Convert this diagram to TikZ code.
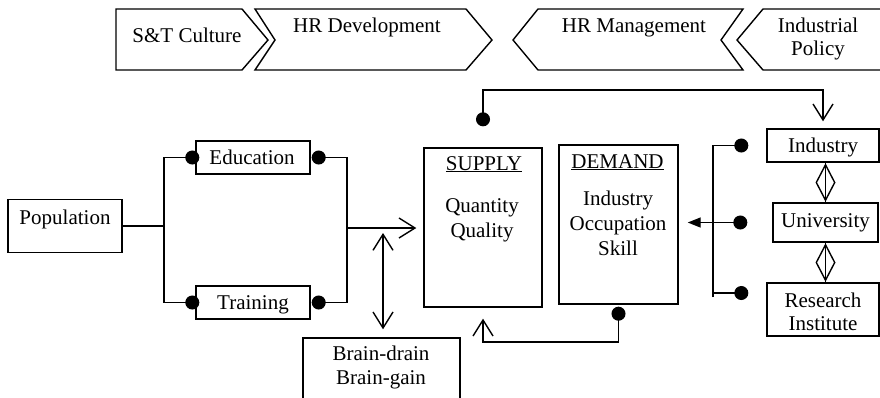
\documentclass[tikz,border=0pt]{standalone}
\usepackage{fontspec}
\setmainfont{Liberation Serif}
\usetikzlibrary{arrows.meta,shapes.geometric}
\tikzset{box/.style={draw,line width=1.4pt,inner sep=0pt},word/.style={anchor=base,align=center,inner sep=0pt},link/.style={line width=1.4pt},barb/.style={link,-{Straight Barb[length=16pt,width=20pt]}},barbs/.style={link,{Straight Barb[length=16pt,width=20pt]}-{Straight Barb[length=16pt,width=20pt]}},dotend/.style={link,-{Circle[length=14pt]}},dotstart/.style={link,{Circle[length=14pt]}-},joint/.style={draw,diamond,line width=1.4pt,inner sep=0pt,minimum width=19pt,minimum height=36pt}}

\begin{document}
\begin{tikzpicture}[x=1pt,y=-1pt,font=\fontsize{21pt}{25pt}\selectfont,line join=miter]
\useasboundingbox (0,0) rectangle (880,397);
\clip (0,0) rectangle (880,397);
\draw[link] (116,9) -- (242,9) -- (268,40) -- (242,70) -- (116,70) -- cycle;
\draw[link] (255,9) -- (466,9) -- (492,40) -- (466,70) -- (255,70) -- (275,40) -- cycle;
\draw[link] (538,9) -- (743,9) -- (721,40) -- (743,70) -- (538,70) -- (513,40) -- cycle;
\draw[link] (892,9) -- (763,9) -- (737,40) -- (763,70) -- (892,70);
\node[word] (culture) at (187,42) {S\&T Culture};
\node[word] (hrdev) at (367,32) {HR Development};
\node[word] (hrman) at (634,32) {HR Management};
\node[word] (policy) at (818,55) {Industrial\\[-2pt]Policy};
\node[box,minimum width=114pt,minimum height=53pt] (pop) at (65,226) {};
\node[box,minimum width=114pt,minimum height=33pt] (edu) at (253,157.5) {};
\node[box,minimum width=114pt,minimum height=33pt] (train) at (253,302.5) {};
\node[box,minimum width=118pt,minimum height=159pt] (supply) at (483,227.5) {};
\node[box,minimum width=119pt,minimum height=159pt] (demand) at (618.5,224.5) {};
\node[box,minimum width=157pt,minimum height=80pt] (brain) at (381.5,378) {};
\node[box,minimum width=112pt,minimum height=33pt] (industry) at (823,145.5) {};
\node[box,minimum width=105pt,minimum height=39pt] (univ) at (825.5,222.5) {};
\node[box,minimum width=112pt,minimum height=53pt] (research) at (823,309.5) {};
\node[word] (pop-t) at (65,224) {Population};
\node[word] (edu-t) at (252,164) {Education};
\node[word] (train-t) at (253,309) {Training};
\node[word] (supply-t) at (484,170) {\underline{SUPPLY}};
\node[word] (supply-b) at (482,237) {Quantity\\Quality};
\node[word] (demand-t) at (617.5,168) {\underline{DEMAND}};
\node[word] (demand-b) at (618,255) {Industry\\Occupation\\Skill};
\node[word] (brain-t) at (381,384) {Brain-drain\\[-1pt]Brain-gain};
\node[word] (industry-t) at (823,152) {Industry};
\node[word] (univ-t) at (825.5,227) {University};
\node[word] (research-t) at (823,330) {Research\\[-2pt]Institute};
\coordinate (split) at (164,226);
\coordinate (merge) at (347,228);
\coordinate (swap) at (383,233);
\coordinate (toprail) at (823,90);
\coordinate (lowrail) at (618.5,342);
\coordinate (bus) at (713,297);
\coordinate (idot) at ([xshift=-18pt]industry.west);
\coordinate (udot) at ([xshift=-25pt]univ.west);
\coordinate (rdot) at ([xshift=-18pt,yshift=16.5pt]research.west);
\draw[link] (pop.east) -- (split);
\draw[dotend,shorten >=-4pt] (split) |- (edu.west); \draw[dotend,shorten >=-4pt] (split) |- (train.west);
\draw[dotstart,shorten <=1pt] (edu.east) -| (merge); \draw[dotstart,shorten <=1pt] (train.east) -| (merge);
\draw[barb,shorten >=7pt] (merge) -- (merge -| supply.west);
\draw[barbs,shorten >=8pt] (swap) -- (swap |- brain.north);
\draw[link,{Circle[length=14pt]}-{Straight Barb[length=16pt,width=20pt]},shorten >=7pt] ([yshift=21pt]supply.north) |- (toprail) -- (industry.north);
\draw[link,{Circle[length=14pt]}-{Straight Barb[length=16pt,width=20pt]},shorten >=11pt] ([yshift=-2pt]demand.south) -- (lowrail) -| (supply.south);
\draw[dotend] (bus) |- (idot); \draw[dotend] (bus |- rdot) -- (rdot);
\draw[link,{Circle[length=14pt]}-{Triangle[length=13pt,width=10pt]},shorten >=9pt] (udot) -- (udot -| demand.east);
\draw[link] (univ.north) -- (univ.north |- industry.south) node[joint,midway] (link1) {};
\draw[link] (univ.south) -- (univ.south |- research.north) node[joint,midway] (link2) {};
\end{tikzpicture}
\end{document}
